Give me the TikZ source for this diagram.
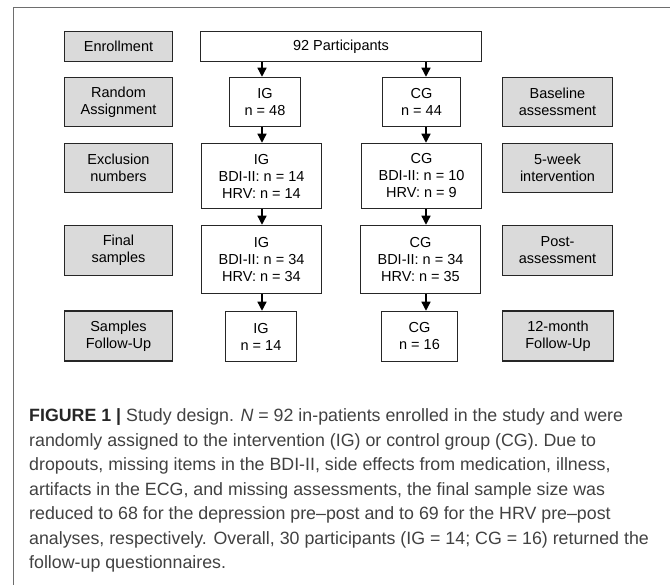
\documentclass[tikz,border=0pt]{standalone}
\usepackage{fontspec}
\setmainfont{Liberation Sans}
\usetikzlibrary{arrows.meta}
\definecolor{boxgray}{RGB}{218,218,218}
\definecolor{framegray}{RGB}{110,110,110}
\definecolor{captext}{RGB}{65,65,65}
\begin{document}
\begin{tikzpicture}[x=1pt,y=-1pt,
    phasebox/.style={draw=black!85, line width=1.5pt, fill=boxgray, align=center, inner sep=0pt, font=\fontsize{14.5}{17}\selectfont},
    groupbox/.style={draw=black!85, line width=1.5pt, fill=white, align=center, inner sep=0pt, font=\fontsize{14.5}{17}\selectfont},
    arr/.style={line width=1.3pt, -{Triangle[width=9pt,length=9pt]}}]
  \useasboundingbox (0,0) rectangle (670,585);
  \draw[framegray, line width=1pt] (13,585) -- (13,8) -- (670,8);
  % left column
  \node[phasebox, minimum width=108pt, minimum height=30pt] (enrol) at (118.5,46.5) {Enrollment};
  \node[phasebox, minimum width=108pt, minimum height=49pt] (assign) at (118.5,102) {Random\\Assignment};
  \node[phasebox, minimum width=108pt, minimum height=49pt] (excl) at (118.5,168) {Exclusion\\numbers};
  \node[phasebox, minimum width=108pt, minimum height=50pt] (final) at (118.5,250.5) {Final\\samples};
  \node[phasebox, minimum width=108pt, minimum height=50pt] (sfollow) at (118.5,336) {Samples\\Follow-Up};
  % right column
  \node[phasebox, minimum width=110pt, minimum height=49pt] (base) at (557.5,102) {Baseline\\assessment};
  \node[phasebox, minimum width=110pt, minimum height=49pt] (interv) at (557.5,168) {5-week\\intervention};
  \node[phasebox, minimum width=110pt, minimum height=50pt] (post) at (557.5,250.5) {Post-\\assessment};
  \node[phasebox, minimum width=111pt, minimum height=50pt] (month) at (558,336) {12-month\\Follow-Up};
  % groups
  \node[groupbox, minimum width=281pt, minimum height=30pt] (part) at (341,46.5) {92 Participants};
  \node[groupbox, minimum width=71pt, minimum height=49pt] (ig1) at (265,102) {IG\\n = 48};
  \node[groupbox, minimum width=78pt, minimum height=49pt] (cg1) at (421.5,102) {CG\\n = 44};
  \node[groupbox, minimum width=120pt, minimum height=65pt] (ig2) at (261.5,176) {IG\\BDI-II: n = 14\\HRV: n = 14};
  \node[groupbox, minimum width=120pt, minimum height=65pt] (cg2) at (421.5,176) {CG\\BDI-II: n = 10\\HRV: n = 9};
  \node[groupbox, minimum width=120pt, minimum height=68pt] (ig3) at (261.5,259.5) {IG\\BDI-II: n = 34\\HRV: n = 34};
  \node[groupbox, minimum width=120pt, minimum height=68pt] (cg3) at (420.5,259.5) {CG\\BDI-II: n = 34\\HRV: n = 35};
  \node[groupbox, minimum width=71pt, minimum height=50pt] (ig4) at (261,336.5) {IG\\n = 14};
  \node[groupbox, minimum width=76pt, minimum height=50pt] (cg4) at (419.5,336.5) {CG\\n = 16};
  % arrows
  \coordinate (igx) at (262,0);
  \coordinate (cgx) at (426,0);
  \draw[arr] (part.south -| igx) -- (ig1.north -| igx);
  \draw[arr] (part.south -| cgx) -- (cg1.north -| cgx);
  \draw[arr] (ig1.south -| igx) -- (ig2.north -| igx);
  \draw[arr] (cg1.south -| cgx) -- (cg2.north -| cgx);
  \draw[arr] (ig2.south -| igx) -- (ig3.north -| igx);
  \draw[arr] (cg2.south -| cgx) -- (cg3.north -| cgx);
  \draw[arr] (ig3.south -| igx) -- (ig4.north -| igx);
  \draw[arr] (cg3.south -| cgx) -- (cg4.north -| cgx);
  % caption
  \node[anchor=north west, inner sep=0pt, align=left, text=captext, font=\fontsize{17.8}{24.5}\selectfont] (caption) at (29,408.5) {{\bfseries\color{black!85}FIGURE 1 |} Study design. \textit{N} = 92 in-patients enrolled in the study and were\\
    randomly assigned to the intervention (IG) or control group (CG). Due to\\
    dropouts, missing items in the BDI-II, side effects from medication, illness,\\
    artifacts in the ECG, and missing assessments, the final sample size was\\
    reduced to 68 for the depression pre–post and to 69 for the HRV pre–post\\
    analyses, respectively. Overall, 30 participants (IG = 14; CG = 16) returned the\\
    follow-up questionnaires.};
\end{tikzpicture}
\end{document}
